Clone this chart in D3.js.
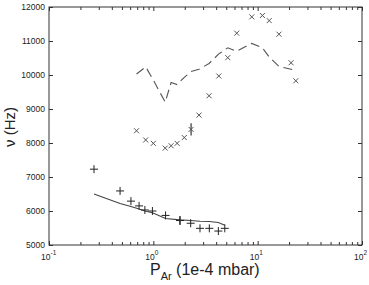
<!DOCTYPE html>
<html>
<head>
<meta charset="utf-8">
<script src="https://cdn.jsdelivr.net/npm/d3@7"></script>
<style>
  body { margin: 0; background: #fff; }
  text { font-family: "Liberation Sans", Arial, sans-serif; fill: #222; }
</style>
</head>
<body>
<svg width="369" height="285"></svg>
<script>
// plus markers (P in 1e-4 mbar, frequency in Hz)
var plusP = [0.27, 0.48, 0.61, 0.73, 0.83, 0.98, 1.31, 1.80, 2.28, 2.80, 3.44, 4.20, 4.84]
var plusNu = [7230, 6590, 6290, 6150, 6030, 6000, 5870, 5720, 5640, 5490, 5490, 5410, 5490]
var plusErr = [0, 0, 0, 0, 0, 0, 0, 130, 0, 0, 0, 0, 0]
// solid fit line
var fitNu = [6500, 6220, 6130, 6060, 6000, 5950, 5780, 5740, 5720, 5700, 5690, 5660, 5580]

// cross markers
var crossP = [0.69, 0.845, 1.0, 1.30, 1.48, 1.69, 1.98, 2.30, 2.74, 3.42, 4.24, 5.17, 6.3, 8.78, 11.1, 12.9, 16.0, 20.9, 23.2]
var crossNu = [8360, 8090, 7990, 7850, 7920, 7990, 8160, 8400, 8820, 9390, 9970, 10510, 11230, 11710, 11750, 11600, 11200, 10360, 9830]
var crossErr = [0, 0, 0, 0, 0, 0, 0, 180, 0, 0, 0, 0, 0, 0, 0, 0, 0, 0, 0]
// dashed line
var dashNu = [10030, 10240, 9850, 9200, 9780, 9720, 9930, 10100, 10170, 10340, 10620, 10800, 10700, 10930, 10800, 10530, 10250, 10170, 10130]

var yTicks = [5000, 6000, 7000, 8000, 9000, 10000, 11000, 12000]
var xMajor = [0.1, 1, 10, 100]
var xExp = ["-1", "0", "1", "2"]

var svg = d3.select("svg")
var x = d3.scaleLog().domain([0.1, 100]).range([49, 362])
var y = d3.scaleLinear().domain([5000, 12000]).range([245, 7])
var ink = "#333"

var xMinor = []
for (var k = -1; k < 2; k++)
    for (var m = 2; m < 10; m++) xMinor.push(m * Math.pow(10, k))

// frame
svg.append("rect")
    .attr("x", 49).attr("y", 7)
    .attr("width", 362 - 49).attr("height", 245 - 7)
    .attr("fill", "none").attr("stroke", ink).attr("stroke-width", 1)

function tickAxis(axis, tr) {
    var g = svg.append("g").attr("transform", tr).call(axis)
    g.select(".domain").remove()
    g.selectAll("line").attr("stroke", ink)
    g.selectAll("text").remove()
    return g
}
tickAxis(d3.axisBottom(x).tickValues(xMajor).tickSize(-4), "translate(0,245)")
tickAxis(d3.axisBottom(x).tickValues(xMinor).tickSize(-3), "translate(0,245)")
tickAxis(d3.axisTop(x).tickValues(xMajor).tickSize(-4), "translate(0,7)")
tickAxis(d3.axisTop(x).tickValues(xMinor).tickSize(-3), "translate(0,7)")
tickAxis(d3.axisLeft(y).tickValues(yTicks).tickSize(-4), "translate(49,0)")
tickAxis(d3.axisRight(y).tickValues(yTicks).tickSize(-4), "translate(362,0)")

// y tick labels
svg.append("g").selectAll("text").data(yTicks).enter().append("text")
    .attr("x", 45).attr("y", d => y(d) + 3)
    .attr("text-anchor", "end").attr("font-size", 8.5)
    .text(d => d)

// x tick labels 10^n
var xl = svg.append("g").selectAll("text").data(xMajor).enter().append("text")
    .attr("x", d => x(d) - 8).attr("y", 259.5)
    .attr("font-size", 8.5)
xl.append("tspan").text("10")
xl.append("tspan").attr("dy", -5).attr("font-size", 6.5).text((d, i) => xExp[i])

// axis titles
var xt = svg.append("text").attr("x", 150).attr("y", 274.5).attr("font-size", 16)
xt.append("tspan").text("P")
xt.append("tspan").attr("dy", 5).attr("font-size", 11).text("Ar")
xt.append("tspan").attr("dy", -5).text(" (1e-4 mbar)")

svg.append("text")
    .attr("transform", "translate(15,127) rotate(-90)")
    .attr("text-anchor", "middle").attr("font-size", 15)
    .text("ν (Hz)")

// lines
var line = d3.line().x(d => x(d[0])).y(d => y(d[1]))
svg.append("path")
    .datum(plusP.map((p, i) => [p, fitNu[i]]))
    .attr("d", line).attr("fill", "none")
    .attr("stroke", "#444").attr("stroke-width", 1.1)
svg.append("path")
    .datum(crossP.map((p, i) => [p, dashNu[i]]))
    .attr("d", line).attr("fill", "none")
    .attr("stroke", "#555").attr("stroke-width", 1.1)
    .attr("stroke-dasharray", "9,5")

// error bars
function errBars(ps, vs, es) {
    svg.append("g").selectAll("line")
        .data(ps.map((p, i) => [p, vs[i], es[i]]).filter(d => d[2] > 0))
        .enter().append("line")
        .attr("x1", d => x(d[0])).attr("x2", d => x(d[0]))
        .attr("y1", d => y(d[1] - d[2])).attr("y2", d => y(d[1] + d[2]))
        .attr("stroke", ink).attr("stroke-width", 1.2)
}
errBars(plusP, plusNu, plusErr)
errBars(crossP, crossNu, crossErr)

// plus markers
svg.append("g").selectAll("path")
    .data(plusP.map((p, i) => [p, plusNu[i]]))
    .enter().append("path")
    .attr("transform", d => "translate(" + x(d[0]) + "," + y(d[1]) + ")")
    .attr("d", "M-4,0H4M0,-4V4")
    .attr("stroke", "#222").attr("stroke-width", 1)

// cross markers
svg.append("g").selectAll("path")
    .data(crossP.map((p, i) => [p, crossNu[i]]))
    .enter().append("path")
    .attr("transform", d => "translate(" + x(d[0]) + "," + y(d[1]) + ")")
    .attr("d", "M-2.5,-2.5L2.5,2.5M-2.5,2.5L2.5,-2.5")
    .attr("stroke", "#555").attr("stroke-width", 1)
</script>
</body>
</html>
